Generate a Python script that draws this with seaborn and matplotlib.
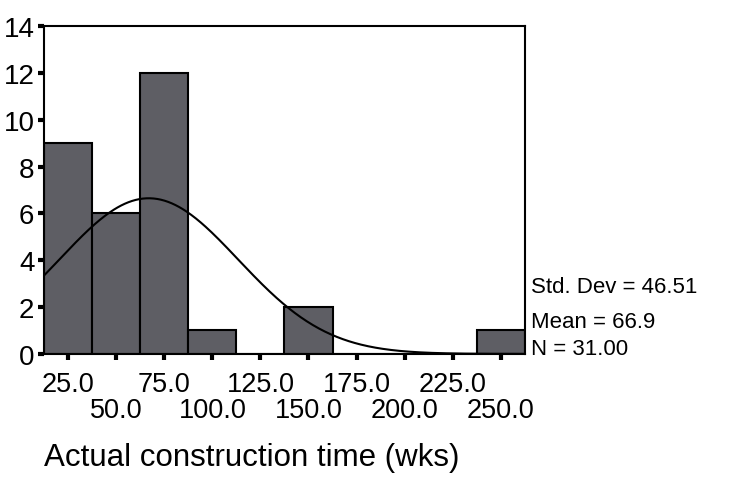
import numpy as np
import pandas as pd
import matplotlib
matplotlib.use("Agg")
import matplotlib.pyplot as plt
import seaborn as sns

# Data
bin_centers = [25, 50, 75, 100, 125, 150, 175, 200, 225, 250]
counts = [9, 6, 12, 1, 0, 2, 0, 0, 0, 1]
bin_width = 25.0
std_dev = 46.51
mean = 66.9
n_total = 31.00
upper_ticks = [25, 75, 125, 175, 225]
lower_ticks = [50, 100, 150, 200, 250]
y_ticks = [0, 2, 4, 6, 8, 10, 12, 14]

sns.set_style("white")
plt.rcParams['font.family'] = ['Liberation Sans', 'DejaVu Sans']
plt.rcParams['text.color'] = 'black'
plt.rcParams['xtick.color'] = 'black'
plt.rcParams['ytick.color'] = 'black'
plt.rcParams['axes.labelcolor'] = 'black'

fig = plt.figure(figsize=(7.36, 5.02), dpi=100)
ax = fig.add_axes([0.06, 0.293, 0.653, 0.653])

df = pd.DataFrame({"time": bin_centers, "count": counts})
edges = [c - bin_width / 2 for c in bin_centers] + [bin_centers[-1] + bin_width / 2]
sns.histplot(data=df, x="time", weights="count", bins=edges, ax=ax,
             color="#5e5e64", edgecolor="black", linewidth=1.5, alpha=1.0)

# Normal curve fitted from stated mean / std dev
xs = np.linspace(edges[0], edges[-1], 400)
ys = n_total * bin_width / (std_dev * np.sqrt(2 * np.pi)) * np.exp(-0.5 * ((xs - mean) / std_dev) ** 2)
ax.plot(xs, ys, color="black", linewidth=1.5)

ax.set_xlim(edges[0], edges[-1])
ax.set_ylim(0, 14)
ax.set_yticks(y_ticks)
ax.set_yticklabels([str(t) for t in y_ticks], fontsize=20)

ax.set_xticks(upper_ticks)
ax.set_xticklabels([f"{t:.1f}" for t in upper_ticks], fontsize=19.5)
ax.set_xticks(lower_ticks, minor=True)
ax.set_xticklabels([f"{t:.1f}" for t in lower_ticks], minor=True, fontsize=19.5)
ax.tick_params(axis="x", which="major", bottom=True, direction="out", length=4, width=3, pad=8, color="black")
ax.tick_params(axis="x", which="minor", bottom=True, direction="out", length=4, width=3, pad=27, color="black")
ax.tick_params(axis="y", left=True, direction="out", length=4, width=3, pad=3, color="black")

for s in ax.spines.values():
    s.set_visible(True)
    s.set_color("black")
    s.set_linewidth(1.5)

ax.set_ylabel("")
ax.set_xlabel("Actual construction time (wks)", fontsize=22.5, labelpad=14, loc="left")

fig.text(0.722, 0.428, f"Std. Dev = {std_dev:.2f}", fontsize=16, ha="left", va="center")
fig.text(0.722, 0.357, f"Mean = {mean:.1f}", fontsize=16, ha="left", va="center")
fig.text(0.722, 0.304, f"N = {n_total:.2f}", fontsize=16, ha="left", va="center")

fig.savefig("out.png", dpi=100, facecolor="white")
